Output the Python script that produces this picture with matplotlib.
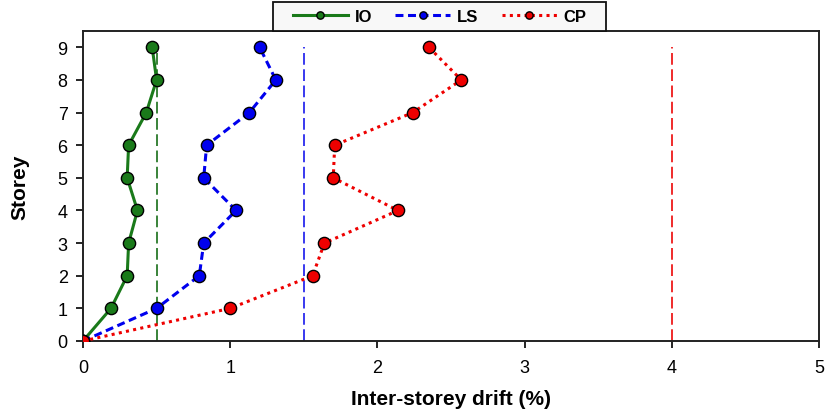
import matplotlib
matplotlib.use("Agg")
import matplotlib.pyplot as plt
from matplotlib.patches import Rectangle

plt.rcParams['font.family'] = ['Liberation Sans', 'DejaVu Sans']

storey = [0, 1, 2, 3, 4, 5, 6, 7, 8, 9]
io_drift = [0, 0.19, 0.30, 0.31, 0.37, 0.30, 0.31, 0.43, 0.50, 0.47]
ls_drift = [0, 0.50, 0.79, 0.82, 1.04, 0.82, 0.84, 1.13, 1.31, 1.20]
cp_drift = [0, 1.00, 1.56, 1.64, 2.14, 1.70, 1.71, 2.24, 2.57, 2.35]
limits = {'IO': 0.5, 'LS': 1.5, 'CP': 4.0}
labels = ['IO', 'LS', 'CP']
colors = ['#1a7a1a', '#0000ee', '#ee0000']
line_colors = ['#2a7a2a', '#2a2aee', '#ee1a1a']
styles = ['-', (0, (2.6, 1.5)), (0, (1, 1.4))]

fig = plt.figure(figsize=(8.26, 4.14), dpi=100)
ax = fig.add_axes([83/826, 1-342/414, (819-83)/826, (342-32)/414])

series = [io_drift, ls_drift, cp_drift]
handles = []
for lab, d, c, ls in zip(labels, series, colors, styles):
    h, = ax.plot(d, storey, linestyle=ls, color=c, lw=2.2, marker='o', markersize=8.8,
                 markerfacecolor=c, markeredgecolor='black', markeredgewidth=1.0,
                 label=lab, zorder=3)
    handles.append(h)

for lab, lc in zip(labels, line_colors):
    v = limits[lab]
    ax.plot([v, v], [0, 9], color=lc, lw=1.3, linestyle=(0, (6.5, 2.5)), zorder=2)

ax.set_xlim(0, 5)
ax.set_ylim(0, 9.5)
ax.set_xticks(range(0, 6))
ax.set_yticks(range(0, 10))
ax.tick_params(labelsize=13, direction='out', length=5, width=1.2, pad=8)
ax.tick_params(axis='y', pad=6)
for s in ax.spines.values():
    s.set_linewidth(1.4)
    s.set_color('#222222')
ax.set_xlabel('Inter-storey drift (%)', fontsize=15, fontweight='bold', labelpad=9)
ax.set_ylabel('Storey', fontsize=15, fontweight='bold', labelpad=20)

# legend frame
frame = Rectangle((273/826, 1-32/414), (606-273)/826, 29/414, transform=fig.transFigure,
                  facecolor='#f8f8f8', edgecolor='#111111', lw=1.3, zorder=5)
fig.patches.append(frame)
leg = fig.legend(handles, labels, loc='center',
                 bbox_to_anchor=((273+606)/2/826, 1-17.5/414),
                 bbox_transform=fig.transFigure, ncol=3,
                 prop={'weight': 'bold', 'size': 12}, markerscale=0.6,
                 frameon=False, handlelength=3.3, handletextpad=0.4, columnspacing=1.4)
leg.set_zorder(6)

fig.savefig('out.png', dpi=100)
